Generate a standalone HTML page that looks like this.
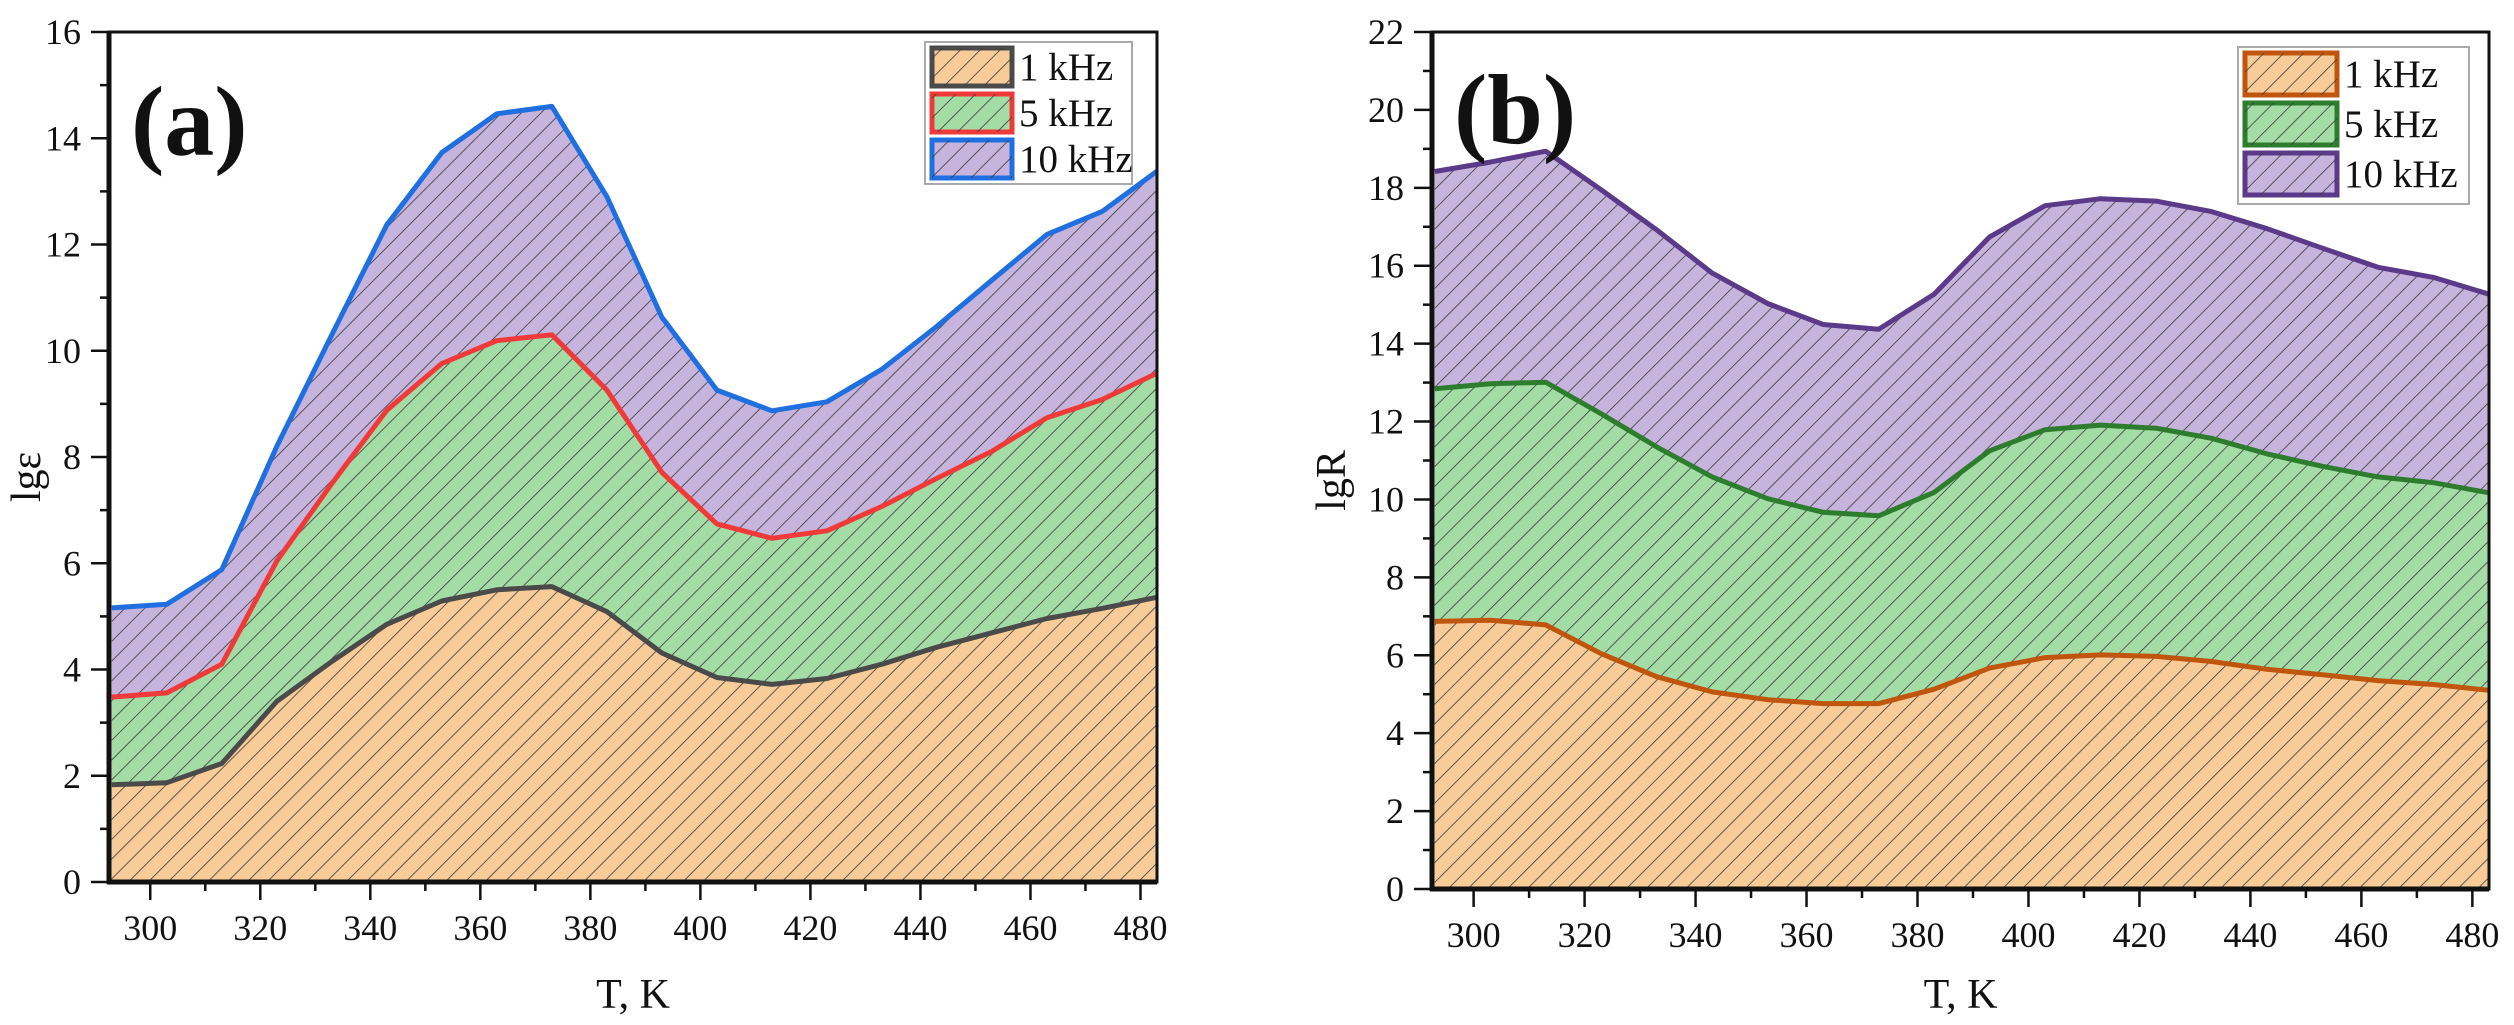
<!DOCTYPE html>
<html><head><meta charset="utf-8"><style>
html,body{margin:0;padding:0;background:#fff;}
svg{display:block;}
svg text{font-family:"Liberation Serif","Times New Roman",serif;fill:#111;}
</style></head><body>
<svg id="chart" width="2514" height="1025" viewBox="0 0 2514 1025" xmlns="http://www.w3.org/2000/svg" font-family="Liberation Serif, serif">
<defs>
<pattern id="hatch" patternUnits="userSpaceOnUse" width="14" height="14" patternTransform="rotate(45)">
<line x1="0" y1="0" x2="0" y2="14" stroke="#3a3a3a" stroke-width="1.6"/>
</pattern>
</defs>
</svg>
<script>
const temps = [293,303,313,323,333,343,353,363,373,383,393,403,413,423,433,443,453,463,473,483];
const epsLabels = ['1 kHz','5 kHz','10 kHz'];
const eps1 = [1.83,1.87,2.23,3.4,4.15,4.85,5.29,5.5,5.56,5.09,4.31,3.85,3.72,3.83,4.1,4.42,4.69,4.96,5.15,5.36];
const eps5 = [3.48,3.56,4.1,6.04,7.5,8.88,9.76,10.19,10.3,9.26,7.71,6.74,6.47,6.61,7.07,7.6,8.11,8.74,9.08,9.58];
const eps10 = [5.16,5.23,5.88,8.2,10.3,12.37,13.73,14.46,14.6,12.9,10.63,9.26,8.87,9.04,9.65,10.46,11.33,12.19,12.62,13.38];
const r1 = [6.87,6.9,6.78,6.04,5.45,5.06,4.86,4.76,4.76,5.13,5.67,5.94,6.01,5.97,5.84,5.64,5.5,5.35,5.25,5.1];
const r5 = [12.84,12.97,13.01,12.2,11.35,10.58,10.02,9.67,9.58,10.18,11.25,11.79,11.91,11.83,11.57,11.17,10.85,10.58,10.43,10.17];
const r10 = [18.42,18.66,18.94,17.95,16.92,15.81,15.03,14.49,14.37,15.27,16.74,17.54,17.72,17.66,17.39,16.95,16.45,15.96,15.7,15.27];
const xTicks = [300,320,340,360,380,400,420,440,460,480];
const epsYTicks = [0,2,4,6,8,10,12,14,16];
const rYTicks = [0,2,4,6,8,10,12,14,16,18,20,22];

const NS='http://www.w3.org/2000/svg';
const svg=document.getElementById('chart');
const FF='Liberation Serif, Times New Roman, serif';
function mk(tag,attrs,parent){const e=document.createElementNS(NS,tag);for(const k in attrs)e.setAttribute(k,attrs[k]);if(tag==='text')e.setAttribute('font-family',FF);(parent||svg).appendChild(e);return e;}

function panel(cfg){
  const g=mk('g',{});
  
  
  const {x0,x1,y0,y1,xmin,xmax,ymin,ymax}=cfg;
  const sx=v=>x0+(v-xmin)/(xmax-xmin)*(x1-x0);
  const sy=v=>y1-(v-ymin)/(ymax-ymin)*(y1-y0);
  const fills=['#f8cc98','#a4dca6','#c6b4dd'];
  const order=[2,1,0];
  order.forEach(i=>{
    const vals=cfg.series[i];
    let d='M'+sx(temps[0])+','+sy(0);
    vals.forEach((v,j)=>{d+=' L'+sx(temps[j]).toFixed(1)+','+sy(v).toFixed(1);});
    d+=' L'+sx(temps[temps.length-1])+','+sy(0)+' Z';
    const a=mk('path',{d:d,fill:fills[i]},g);
    
    
    const h=mk('path',{d:d,fill:'url(#hatch)'},g);
    
    
    let ld='';
    vals.forEach((v,j)=>{ld+=(j?' L':'M')+sx(temps[j]).toFixed(1)+','+sy(v).toFixed(1);});
    const l=mk('path',{d:ld,fill:'none',stroke:cfg.colors[i],'stroke-width':5,'stroke-linejoin':'round'},g);
    
    
  });
  const fr=mk('rect',{x:x0,y:y0,width:x1-x0,height:y1-y0,fill:'none',stroke:'#111','stroke-width':3},g);
  
  
  mk('line',{x1:x0,y1:y0,x2:x0,y2:y1+2,stroke:'#111','stroke-width':5},g);
  mk('line',{x1:x0-2,y1:y1,x2:x1,y2:y1,stroke:'#111','stroke-width':5},g);
  for(let t=xTicks[0]-10;t<=xmax;t+=10){
    if(t<xmin)continue;
    const major=xTicks.indexOf(t)>=0;
    mk('line',{x1:sx(t),y1:y1,x2:sx(t),y2:y1+(major?18:9),stroke:'#111','stroke-width':2.5},g);
  }
  xTicks.forEach(t=>{
    const tx=mk('text',{x:sx(t),y:y1+58,'font-size':36,'text-anchor':'middle'},g);
    tx.textContent=t;
    
    
  });
  for(let v=ymin;v<=ymax;v+=1){
    const major=cfg.yTicks.indexOf(v)>=0;
    mk('line',{x1:x0,y1:sy(v),x2:x0-(major?18:9),y2:sy(v),stroke:'#111','stroke-width':2.5},g);
  }
  cfg.yTicks.forEach(v=>{
    const tx=mk('text',{x:x0-28,y:sy(v)+12,'font-size':36,'text-anchor':'end'},g);
    tx.textContent=v;
    
    
  });
  const xt=mk('text',{x:(x0+x1)/2,y:1008,'font-size':42,'text-anchor':'middle'},g);
  xt.textContent='T, K';
  
  
  const yt=mk('text',{x:cfg.ytx,y:(y0+y1)/2+20,'font-size':42,'text-anchor':'middle',transform:'rotate(-90 '+cfg.ytx+' '+((y0+y1)/2+20)+')'},g);
  yt.textContent=cfg.ytitle;
  
  
  const pl=mk('text',{x:x0+22,y:cfg.ply,'font-size':100,'font-weight':'bold'},g);
  pl.textContent=cfg.plabel;
  
  
  const L=cfg.legend;
  const lg=mk('g',{},g);
  
  
  mk('rect',{x:L.x,y:L.y,width:L.w,height:L.h,fill:'#fff',stroke:'#aaa','stroke-width':2},lg);
  [0,1,2].forEach(i=>{
    const yy=L.y+6+i*L.row;
    const e=mk('g',{},lg);
    
    
    mk('rect',{x:L.x+7,y:yy,width:L.sw,height:L.row-8,fill:fills[i],stroke:cfg.colors[i],'stroke-width':5},e);
    mk('rect',{x:L.x+7,y:yy,width:L.sw,height:L.row-8,fill:'url(#hatch)'},e);
    const t=mk('text',{x:L.x+L.sw+14,y:yy+(L.row-8)/2+13,'font-size':39},e);
    t.textContent=cfg.labels[i];
  });
}

panel({name:'panel-a-permittivity',x0:109,x1:1157,y0:32,y1:882,xmin:292.5,xmax:483,ymin:0,ymax:16,
  series:[eps1,eps5,eps10],labels:epsLabels,colors:['#4a4a4a','#f03a3a','#1f6fe0'],yTicks:epsYTicks,
  ytitle:'lgε',ytx:40,plabel:'(a)',ply:155,
  legend:{x:925,y:42,w:207,h:142,row:46,sw:80}});
panel({name:'panel-b-resistance',x0:1432,x1:2489,y0:32,y1:889,xmin:292.5,xmax:483,ymin:0,ymax:22,
  series:[r1,r5,r10],labels:epsLabels,colors:['#c0560e','#2e7d2e','#5b3a8a'],yTicks:rYTicks,
  ytitle:'lgR',ytx:1345,plabel:'(b)',ply:143,
  legend:{x:2238,y:47,w:231,h:157,row:50,sw:92}});
</script>
</body></html>
